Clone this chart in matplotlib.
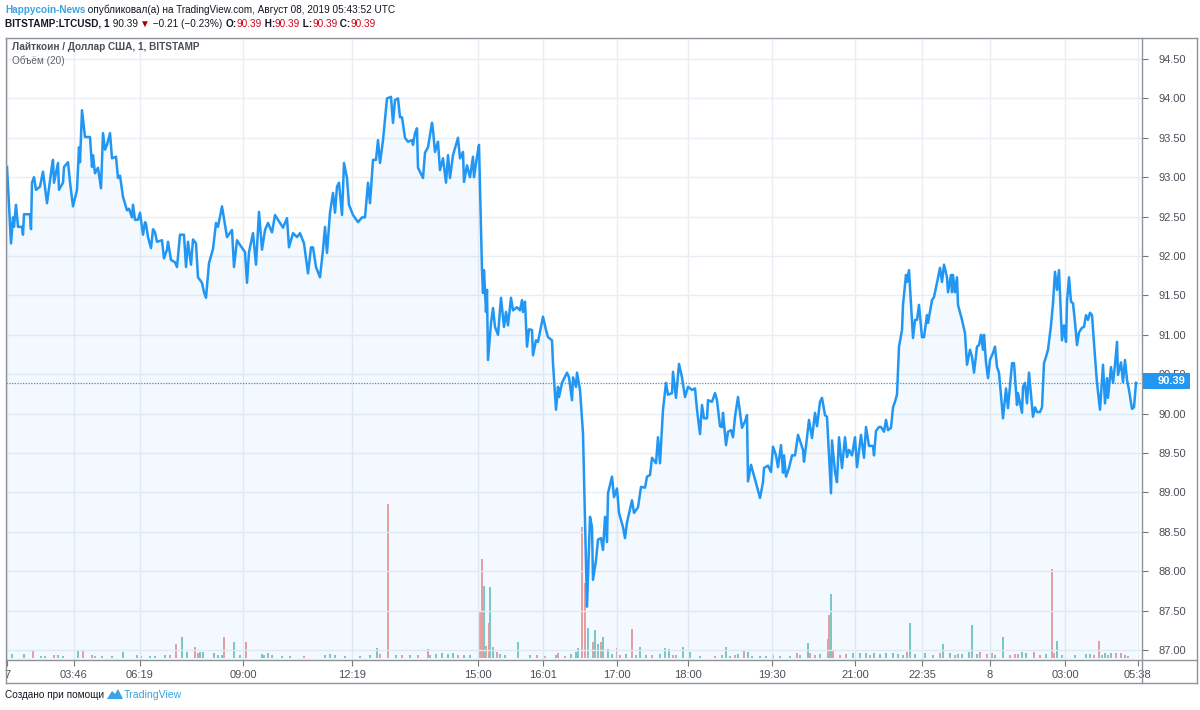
import numpy as np
import matplotlib
matplotlib.use('Agg')
import matplotlib.pyplot as plt
from matplotlib.patches import Rectangle, Polygon
from matplotlib.lines import Line2D

plt.rcParams['font.family'] = ['Liberation Sans', 'DejaVu Sans']

# ---------------- data ----------------
# bar numbers (1-minute bars, gaps skipped) and close prices, LTC/USD
bars = [7, 11, 13, 14, 16, 18, 22, 23, 24, 30, 31, 32, 34, 36, 40, 43, 47, 52, 53, 54, 58, 59, 63, 64, 68, 70,
        73, 77, 79, 80, 82, 85, 90, 92, 93, 95, 98, 101, 103, 105, 107, 110, 112, 116, 118, 120, 123, 127, 129,
        132, 133, 135, 138, 140, 143, 145, 146, 148, 151, 153, 155, 157, 162, 164, 167, 168, 171, 175, 177, 180,
        184, 186, 188, 191, 193, 196, 198, 202, 204, 206, 209, 213, 216, 218, 222, 227, 232, 234, 237, 240, 245,
        247, 249, 253, 256, 259, 262, 265, 268, 272, 275, 280, 283, 287, 289, 293, 297, 300, 304, 308, 311, 313,
        316, 320, 323, 325, 327, 330, 333, 335, 337, 339, 342, 344, 347, 349, 353, 358, 362, 365, 368, 370, 373,
        376, 378, 380, 383, 387, 391, 393, 395, 398, 400, 402, 405, 408, 412, 413, 415, 417, 418, 423, 425, 428,
        432, 433, 435, 438, 440, 443, 446, 448, 450, 453, 458, 460, 463, 464, 467, 470, 473, 474, 477, 479, 482,
        483, 484, 486, 487, 488, 491, 493, 495, 498, 501, 504, 506, 508, 511, 513, 517, 520, 522, 523, 525, 527,
        529, 532, 533, 536, 538, 541, 543, 546, 548, 552, 553, 556, 558, 559, 562, 567, 569, 572, 573, 576, 577,
        580, 583, 587, 590, 592, 593, 596, 598, 601, 603, 605, 607, 608, 612, 614, 617, 619, 623, 625, 627, 632,
        634, 638, 641, 645, 647, 650, 652, 656, 658, 660, 663, 666, 668, 672, 673, 676, 679, 682, 685, 688, 692,
        695, 697, 700, 702, 704, 707, 708, 712, 715, 717, 720, 722, 723, 726, 728, 731, 733, 735, 738, 742, 745,
        747, 748, 751, 753, 756, 760, 763, 764, 768, 771, 773, 776, 778, 781, 783, 784, 786, 789, 792, 795, 798,
        803, 804, 806, 809, 812, 815, 817, 820, 822, 825, 827, 831, 832, 835, 837, 839, 842, 845, 847, 849, 852,
        855, 857, 861, 864, 866, 869, 873, 874, 876, 879, 881, 884, 886, 888, 891, 893, 895, 897, 899, 902, 903,
        906, 907, 909, 913, 915, 917, 919, 922, 924, 927, 928, 932, 934, 937, 940, 942, 944, 947, 948, 951, 952,
        953, 955, 957, 958, 962, 965, 967, 970, 972, 974, 977, 979, 981, 983, 984, 986, 988, 990, 993, 995, 997,
        999, 1003, 1006, 1008, 1012, 1014, 1017, 1018, 1022, 1023, 1025, 1027, 1029, 1033, 1035, 1037, 1040,
        1042, 1044, 1046, 1048, 1051, 1053, 1055, 1057, 1059, 1062, 1064, 1066, 1067, 1069, 1071, 1073, 1075,
        1077, 1079, 1082, 1084, 1086, 1088, 1090, 1092, 1095, 1097, 1100, 1103, 1105, 1107, 1108, 1111, 1113,
        1115, 1117, 1118, 1121, 1123, 1125, 1127, 1129, 1132, 1134, 1136]
prices = [93.13, 92.16, 92.49, 92.37, 92.65, 92.37, 92.37, 92.27, 92.53, 92.53, 92.34, 92.93, 93.0, 92.84, 92.88,
          93.07, 92.67, 93.15, 93.22, 92.93, 93.18, 92.84, 92.93, 93.13, 93.19, 92.94, 92.63, 92.84, 93.38, 93.19,
          93.85, 93.51, 93.51, 93.13, 93.28, 93.05, 93.12, 92.86, 93.56, 93.35, 93.41, 93.56, 93.24, 93.26, 92.99,
          93.02, 92.75, 92.58, 92.6, 92.49, 92.65, 92.46, 92.46, 92.55, 92.27, 92.43, 92.41, 92.24, 92.1, 92.34,
          92.3, 92.18, 92.2, 91.97, 92.08, 92.18, 91.95, 91.92, 91.86, 92.27, 92.27, 91.86, 92.18, 91.89, 92.21,
          92.16, 91.73, 91.66, 91.54, 91.47, 91.91, 92.09, 92.42, 92.37, 92.63, 92.24, 92.33, 91.86, 92.2, 92.14,
          92.05, 91.66, 92.05, 92.29, 91.89, 92.56, 92.08, 92.33, 92.42, 92.3, 92.52, 92.42, 92.36, 92.48, 92.11,
          92.29, 92.24, 92.29, 92.16, 91.78, 92.11, 92.11, 91.86, 91.73, 92.08, 92.37, 92.04, 92.55, 92.8, 92.55,
          92.88, 92.93, 92.52, 93.18, 92.99, 92.65, 92.52, 92.43, 92.49, 92.49, 92.93, 92.67, 93.22, 93.22, 93.47,
          93.18, 93.47, 94.0, 94.02, 93.69, 93.98, 94.0, 93.76, 93.76, 93.5, 93.45, 93.47, 93.41, 93.56, 93.62,
          93.12, 92.99, 93.31, 93.38, 93.69, 93.6, 93.32, 93.45, 93.09, 93.24, 92.93, 93.28, 92.99, 93.28, 93.5,
          93.24, 93.32, 92.94, 93.15, 93.0, 93.26, 93.0, 93.26, 93.41, 91.82, 91.53, 91.82, 91.29, 91.57, 90.68,
          91.15, 91.34, 91.1, 91.0, 91.47, 91.1, 91.29, 91.12, 91.47, 91.31, 91.35, 91.31, 91.44, 91.29, 91.42,
          90.85, 91.07, 91.06, 90.74, 90.93, 90.91, 91.1, 91.23, 91.06, 90.97, 90.93, 90.64, 90.05, 90.34, 90.21,
          90.39, 90.52, 90.46, 90.17, 90.46, 90.34, 90.52, 90.3, 89.75, 87.55, 88.69, 88.56, 87.89, 88.14, 88.4,
          88.42, 88.27, 88.69, 88.37, 88.99, 89.2, 88.94, 89.05, 88.74, 88.56, 88.42, 88.62, 88.9, 88.74, 88.81,
          89.07, 89.06, 89.2, 89.22, 89.44, 89.37, 89.7, 89.37, 90.05, 90.39, 90.24, 90.26, 90.53, 90.2, 90.63,
          90.46, 90.21, 90.34, 90.3, 90.32, 90.05, 89.74, 90.11, 89.94, 89.94, 90.17, 90.15, 90.26, 90.17, 89.84,
          89.83, 90.01, 89.6, 89.77, 89.79, 89.7, 89.96, 90.21, 89.82, 89.9, 89.98, 89.14, 89.35, 89.26, 89.12,
          88.93, 89.13, 89.31, 89.34, 89.26, 89.58, 89.47, 89.32, 89.6, 89.25, 89.47, 89.2, 89.31, 89.47, 89.47,
          89.73, 89.54, 89.39, 89.59, 89.92, 89.69, 90.01, 89.84, 90.15, 90.2, 89.98, 89.96, 88.99, 89.66, 89.26,
          89.13, 89.7, 89.31, 89.7, 89.45, 89.54, 89.47, 89.7, 89.32, 89.73, 89.44, 89.83, 89.59, 89.59, 89.47,
          89.78, 89.83, 89.83, 89.77, 89.92, 89.79, 89.82, 90.08, 90.15, 90.24, 90.85, 91.06, 91.38, 91.76, 91.67,
          91.82, 90.96, 91.19, 91.19, 91.38, 90.97, 90.97, 91.25, 91.15, 91.44, 91.48, 91.66, 91.85, 91.67, 91.89,
          91.73, 91.54, 91.76, 91.54, 91.76, 91.54, 91.73, 91.38, 91.19, 91.02, 90.62, 90.81, 90.72, 90.52, 90.85,
          90.87, 91.0, 90.81, 91.0, 90.65, 90.45, 90.68, 90.77, 90.85, 90.59, 90.52, 89.94, 90.32, 90.07, 90.64,
          90.64, 90.11, 90.26, 90.01, 90.34, 90.39, 90.13, 90.52, 89.96, 90.08, 90.02, 90.02, 90.08, 90.64, 90.72,
          90.81, 91.12, 91.4, 91.8, 91.57, 91.82, 90.93, 91.12, 90.91, 91.42, 91.73, 91.42, 91.4, 91.16, 90.87,
          91.03, 91.09, 91.1, 91.25, 91.19, 91.28, 91.25, 90.72, 90.39, 90.05, 90.62, 90.13, 90.45, 90.2, 90.59,
          90.39, 90.62, 90.91, 90.49, 90.65, 90.4, 90.68, 90.43, 90.3, 90.06, 90.08, 90.39]

# volume bars: bar number, volume (relative units), direction (1 = up/teal, 0 = down/red)
vol_bars = [12, 24, 33, 41, 45, 54, 58, 63, 78, 83, 92, 95, 102, 112, 123, 137, 141, 150, 155, 165, 170, 176, 182,
            187, 195, 198, 200, 203, 214, 218, 222, 224, 234, 240, 246, 262, 264, 268, 272, 282, 290, 304, 325, 330,
            335, 345, 360, 370, 377, 380, 388, 396, 402, 410, 418, 428, 430, 436, 442, 448, 453, 458, 464, 470, 480,
            482, 484, 486, 489, 490, 493, 497, 500, 505, 518, 530, 537, 545, 556, 558, 565, 571, 576, 578, 582, 585,
            588, 593, 595, 598, 601, 603, 608, 612, 617, 620, 626, 632, 636, 640, 646, 652, 660, 665, 669, 673, 676,
            683, 690, 700, 715, 722, 726, 730, 735, 738, 744, 748, 752, 760, 766, 773, 780, 790, 797, 800, 808, 810,
            815, 820, 828, 829, 831, 833, 840, 846, 853, 860, 866, 870, 874, 880, 886, 893, 898, 903, 907, 910, 915,
            925, 933, 940, 943, 950, 955, 958, 962, 969, 972, 977, 980, 987, 992, 995, 1003, 1010, 1015, 1018, 1022,
            1026, 1034, 1040, 1046, 1052, 1054, 1057, 1062, 1075, 1086, 1090, 1094, 1099, 1102, 1105, 1108, 1111,
            1116, 1121, 1125, 1128]
vol_values = [4, 4, 7, 2, 2, 3, 3, 2, 7, 7, 3, 2, 2, 2, 6, 3, 2, 2, 2, 3, 3, 14, 21,
              6, 11, 5, 6, 6, 5, 3, 3, 21, 16, 3, 16, 4, 3, 5, 3, 2, 2, 2, 3, 4,
              3, 2, 2, 3, 10, 4, 154, 3, 3, 3, 3, 9, 3, 4, 5, 4, 5, 3, 3, 3, 47,
              99, 72, 12, 35, 71, 11, 6, 4, 3, 16, 3, 3, 2, 3, 5, 2, 4, 6, 10, 131, 75,
              30, 16, 28, 14, 16, 21, 9, 4, 10, 3, 4, 29, 3, 11, 3, 3, 4, 10, 9, 3, 3,
              11, 6, 2, 2, 3, 11, 2, 3, 4, 7, 6, 2, 2, 2, 3, 2, 2, 5, 3, 15, 5,
              3, 4, 19, 43, 64, 7, 3, 4, 5, 5, 5, 3, 5, 4, 5, 5, 4, 3, 6, 35, 4,
              5, 3, 5, 14, 5, 3, 4, 4, 6, 33, 4, 6, 4, 5, 3, 21, 3, 4, 4, 6,
              5, 6, 3, 4, 89, 5, 17, 3, 3, 4, 4, 3, 17, 3, 5, 3, 5,
              5, 5, 3, 2]
vol_up = [1, 1, 0, 1, 1, 0, 1, 1, 1, 0, 1, 0, 1, 1, 1, 1, 1, 1, 1, 1, 0, 0, 1,
          1, 0, 0, 1, 1, 1, 1, 1, 0, 1, 1, 0, 1, 1, 1, 1, 1, 1, 0, 1, 1,
          1, 1, 1, 1, 1, 0, 0, 1, 0, 1, 0, 0, 1, 1, 1, 1, 1, 0, 1, 1, 0,
          0, 1, 0, 0, 1, 1, 0, 1, 1, 1, 1, 0, 0, 1, 0, 0, 1, 1, 1, 0, 0,
          1, 0, 1, 1, 0, 1, 1, 1, 0, 0, 1, 0, 1, 1, 1, 0, 1, 1, 1, 0, 1,
          1, 1, 1, 0, 1, 1, 1, 0, 1, 0, 1, 1, 1, 1, 1, 1, 1, 0, 1, 1, 0,
          0, 1, 0, 0, 1, 0, 0, 0, 1, 1, 1, 0, 1, 1, 1, 1, 1, 1, 0, 1, 1,
          1, 1, 0, 1, 1, 0, 1, 1, 1, 1, 1, 0, 0, 0, 1, 1, 0, 0, 0, 1,
          1, 0, 0, 1, 0, 0, 1, 1, 1, 1, 1, 0, 0, 1, 1, 0, 1,
          0, 0, 1, 0]

tick_bars = [7, 74, 140, 243, 352, 478, 543, 617, 688, 772, 855, 922, 990, 1065, 1138]
tick_labels = ['7', '03:46', '06:19', '09:00', '12:19', '15:00', '16:01', '17:00', '18:00', '19:30',
               '21:00', '22:35', '8', '03:00', '05:38']
price_ticks = [87.0, 87.5, 88.0, 88.5, 89.0, 89.5, 90.0, 90.5, 91.0, 91.5, 92.0, 92.5, 93.0, 93.5, 94.0, 94.5]
last_price = 90.39

# ---------------- figure ----------------
W, H = 1200, 710
fig = plt.figure(figsize=(W / 100, H / 100), dpi=100)
fig.patch.set_facecolor('white')

def fx(px):
    return px / W

def fy(py):
    return 1 - py / H

L, R, T, B = 6, 1142, 38, 660
rect = [fx(L), fy(B), (R - L) / W, (B - T) / H]

BLUE = '#2196f3'
GRID = '#e8eef4'
TXT = '#4a4f57'

ax_vol = fig.add_axes(rect)
ax_vol.set_facecolor('white')
cols = ['#7fcbc3' if u else '#f0a09d' for u in vol_up]
ax_vol.bar(vol_bars, vol_values, width=1.7, color=cols, linewidth=0)
ax_vol.set_ylim(-2, (B - T) - 2)
ax_vol.set_xlim(L, R)
ax_vol.axis('off')

ax = fig.add_axes(rect, sharex=ax_vol)
ax.set_facecolor('none')
ylo = 87 - 10 / 78.8
yhi = 87 + (650 - 38) / 78.8
ax.set_ylim(ylo, yhi)
ax.set_xlim(L, R)

ax.fill_between(bars, prices, ylo, color=BLUE, alpha=0.05, linewidth=0, zorder=1)
ax.plot(bars, prices, color=BLUE, lw=1.8, zorder=3, solid_joinstyle='round')
ax.axhline(last_price, color=BLUE, lw=0.9, ls=(0, (1, 1.2)), zorder=2)

ax.set_xticks(tick_bars)
ax.set_xticklabels(tick_labels)
ax.set_yticks(price_ticks)
ax.set_yticklabels([f'{v:.2f}' for v in price_ticks])
ax.yaxis.tick_right()
ax.grid(True, color=GRID, lw=1, zorder=0)
ax.set_axisbelow(True)
ax.tick_params(axis='x', direction='out', length=4, width=0.8, color='#777', labelsize=8,
               labelcolor=TXT, pad=3)
ax.tick_params(axis='y', direction='out', length=4, width=0.8, color='#777', labelsize=8,
               labelcolor=TXT, pad=8)
for s in ax.spines.values():
    s.set_visible(False)

# frame lines
FR = '#8e9299'
for (x0, y0, x1, y1) in [(L, T, 1197, T), (L, 683, 1197, 683), (L, T, L, 683), (1197, T, 1197, 683),
                         (R, T, R, 683), (L, B, 1197, B)]:
    fig.add_artist(Line2D([fx(x0), fx(x1)], [fy(y0), fy(y1)], color=FR, lw=1.0))

# last price box
fig.add_artist(Rectangle((fx(1143), fy(389)), 47 / W, 16 / H, facecolor=BLUE, edgecolor='none'))
fig.text(fx(1158), fy(381), f'{last_price:.2f}', color='white', fontsize=8, fontweight='bold',
         ha='left', va='center')

# header pieces
renderer = fig.canvas.get_renderer()

def pieces(x, y, parts, size):
    for text, color, weight in parts:
        t = fig.text(fx(x), fy(y), text, color=color, fontsize=size, fontweight=weight,
                     ha='left', va='center')
        bb = t.get_window_extent(renderer)
        x += bb.width

DARK = '#131722'
RED = '#d0021b'
pieces(5, 10, [('Happycoin-News', '#3aa3e3', 'bold'),
               (' опубликовал(а) на TradingView.com, Август 08, 2019 05:43:52 UTC', DARK, 'normal')], 7.2)
pieces(5, 24, [('BITSTAMP:LTCUSD, 1', DARK, 'bold'), (' 90.39 ', DARK, 'normal'),
               ('▼', '#a80000', 'normal'), (' −0.21 (−0.23%) ', DARK, 'normal'),
               ('O:', DARK, 'bold'), ('90.39', RED, 'normal'), (' H:', DARK, 'bold'),
               ('90.39', RED, 'normal'), (' L:', DARK, 'bold'), ('90.39', RED, 'normal'),
               (' C:', DARK, 'bold'), ('90.39', RED, 'normal')], 7.2)

fig.text(fx(12), fy(47), 'Лайткоин / Доллар США, 1, BITSTAMP', color='#4a4f57', fontsize=7.2,
         fontweight='bold', ha='left', va='center')
fig.text(fx(12), fy(61), 'Объём (20)', color='#5d626b', fontsize=7.2, ha='left', va='center')

# footer
fig.text(fx(5), fy(695), 'Создано при помощи', color=DARK, fontsize=7.2, ha='left', va='center')
logo = [(107, 699), (112, 691), (115, 694), (118, 689), (123, 699)]
fig.add_artist(Polygon([(fx(a), fy(b)) for a, b in logo], closed=True, facecolor='#3aa3e3',
                       edgecolor='none'))
fig.text(fx(124), fy(695), 'TradingView', color='#3aa3e3', fontsize=7.6, ha='left', va='center')

fig.savefig('out.png', dpi=100, facecolor='white')
